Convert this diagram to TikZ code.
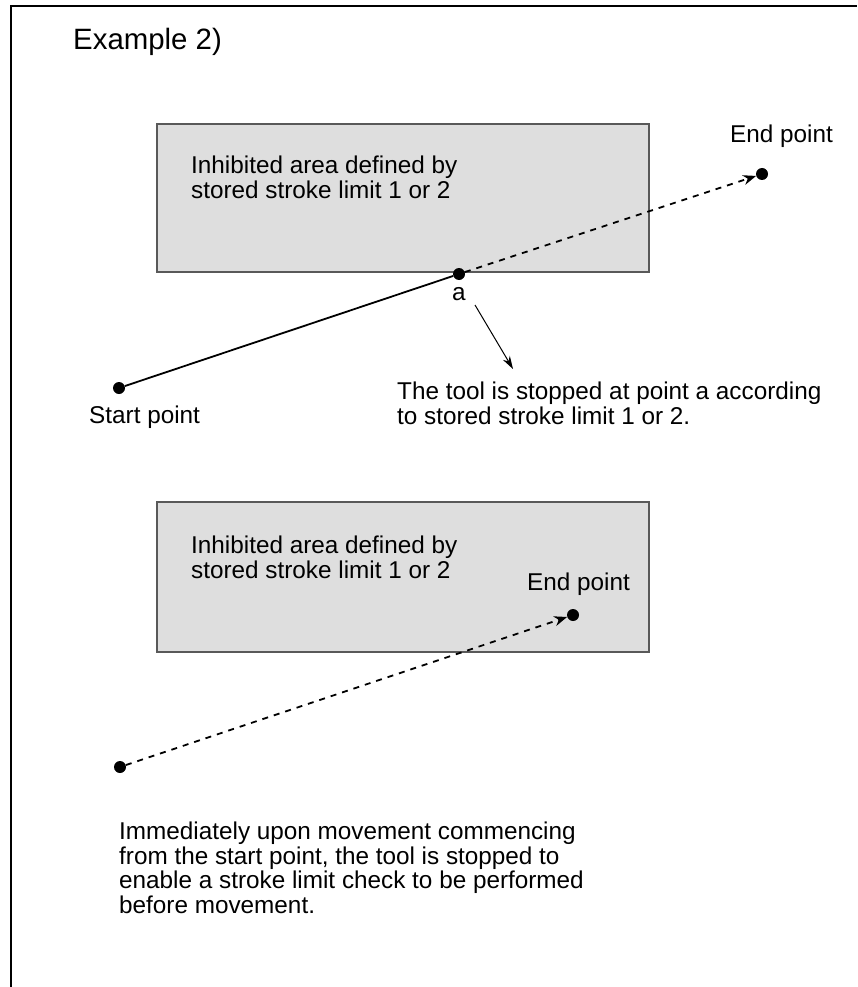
\documentclass[tikz,border=0pt]{standalone}
\usepackage{fontspec}
\setmainfont{Liberation Sans}
\usetikzlibrary{arrows.meta}

\begin{document}
\begin{tikzpicture}[x=1pt,y=-1pt,
  txt/.style={anchor=base west,inner sep=0pt,align=left,font=\fontsize{24.3}{24.5}\selectfont},
  area/.style={draw=black!65,fill=black!13,line width=1.5pt},
  dot/.style={circle,fill=black,inner sep=0pt,minimum size=12pt},
  path/.style={line width=1.8pt},
  move/.style={line width=1.8pt,dash pattern=on 6pt off 6pt,-{Stealth[length=13pt,width=10pt]}},
  callout/.style={line width=1pt,-{Stealth[length=13pt,width=8pt]}}]
\useasboundingbox (0,0) rectangle (857,987);
% frame
\draw[line width=2pt] (11,987) -- (11,6) -- (857,6);
\node[txt,font=\fontsize{29.4}{30}\selectfont] (title) at (73,50) {Example 2)};

% upper case: stopped at point a
\draw[area] (157,124) rectangle (649,272);
\node[txt] (area1) at (191,198) {Inhibited area defined by\\stored stroke limit 1 or 2};
\node[dot] (start1) at (119,388) {};
\node[dot] (a) at (459,274) {};
\node[dot] (end1) at (762,174) {};
\node[txt] (start1lbl) at (89,423) {Start point};
\node[txt,anchor=base] (albl) at (459,300) {a};
\node[txt] (end1lbl) at (730,143) {End point};
\draw[path] (start1) -- (a);
\draw[move] (a) -- (end1);
\coordinate (callfrom) at (475,305);
\coordinate (callto) at (513,369);
\draw[callout] (callfrom) -- (callto);
\node[txt] (note1) at (397,424) {The tool is stopped at point a according\\to stored stroke limit 1 or 2.};

% lower case: stopped at the start point
\draw[area] (157,502) rectangle (649,652);
\node[txt] (area2) at (191,578) {Inhibited area defined by\\stored stroke limit 1 or 2};
\node[dot] (start2) at (120,767) {};
\node[dot] (end2) at (573,615) {};
\node[txt] (end2lbl) at (527,590) {End point};
\draw[move] (start2) -- (end2);
\node[txt] (note2) at (119,913) {Immediately upon movement commencing\\from the start point, the tool is stopped to\\enable a stroke limit check to be performed\\before movement.};
\end{tikzpicture}
\end{document}
